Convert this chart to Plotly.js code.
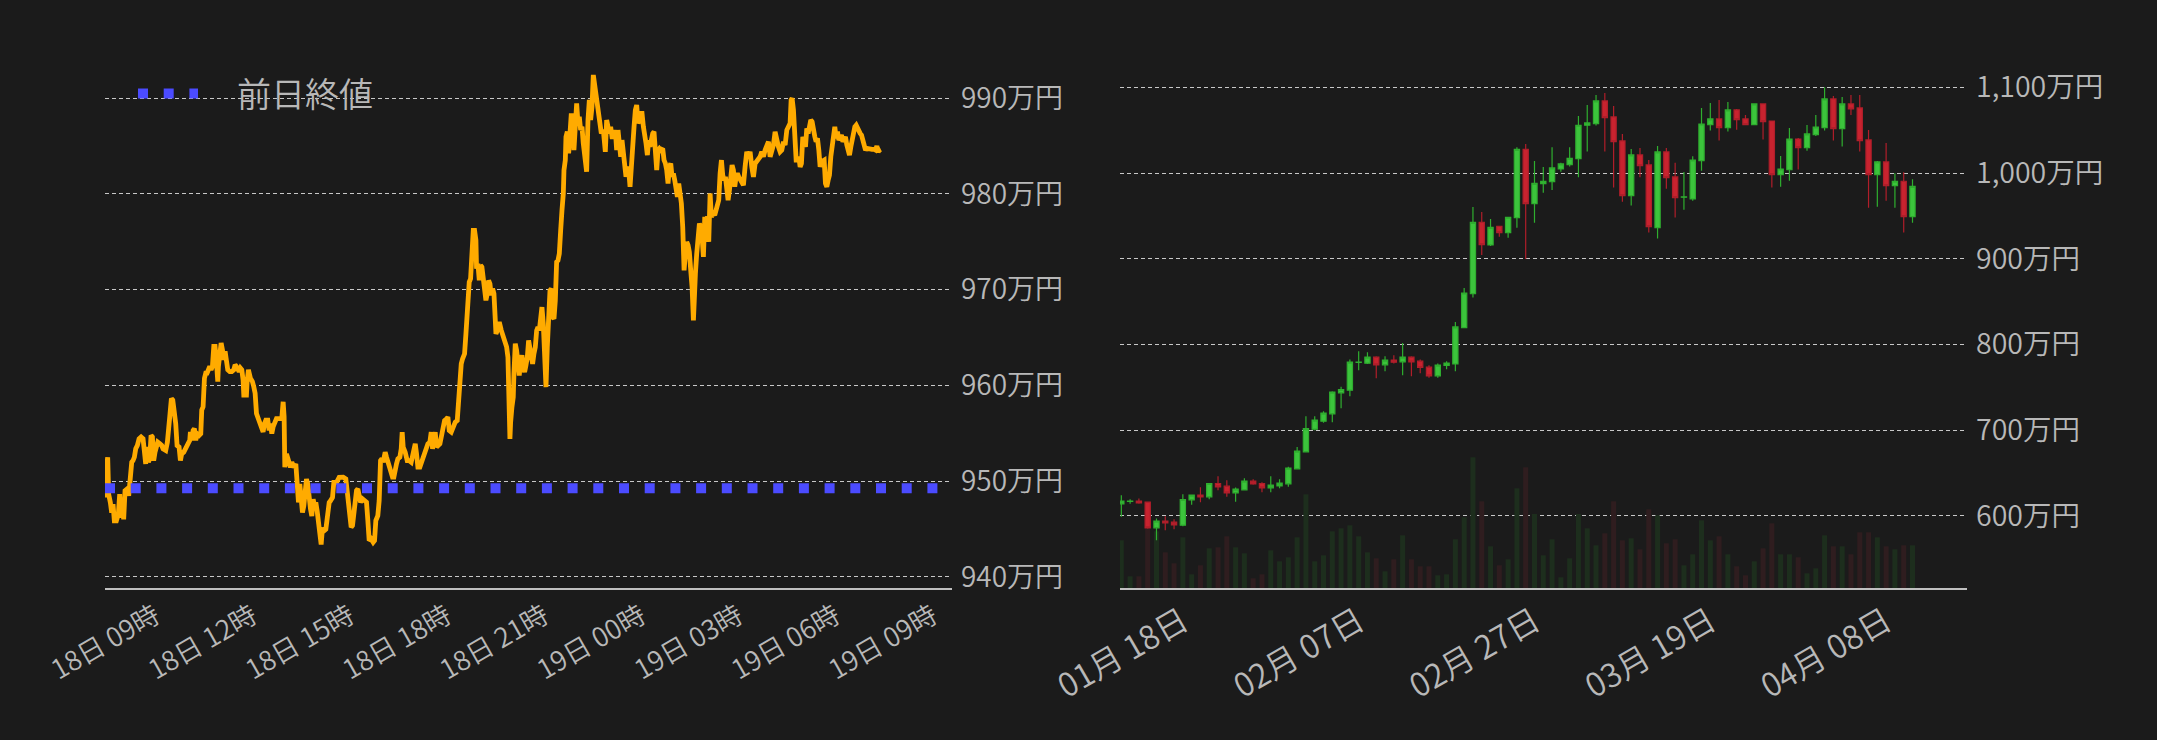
<!DOCTYPE html>
<html>
<head>
<meta charset="utf-8">
<script src="https://cdn.plot.ly/plotly-3.0.1.min.js"></script>
<style>
html,body{margin:0;padding:0;background:#1b1b1b;}
#chart{width:2157px;height:740px;}
</style>
</head>
<body>
<div id="chart"></div>
<script>
// ---------- Left chart: last 24h price (万円) ----------
const intradayStartUTC = Date.UTC(2023, 3, 18, 7, 29); // 18日 07:29
const intradayMinutes = [
0,0.5,3.0,4.8,7.9,10.4,12.9,15.3,19.0,22.7,25.2,27.7,30.2,32.6,35.1,38.8,41.9,43.8,47.5,49.9,52.4,54.9,58.0,61.1,64.8,68.5,70.9,73.4,75.9,78.4,80.8,83.3,85.8,88.2,90.7,93.2,95.7,99.4,103.1,105.5,108.0,110.5,113.6,116.0,118.5,121.0,123.5,125.9,129.0,131.5,135.2,137.7,140.1,143.9,147.6,151.3,155.0,156.2,158.7,161.2,163.6,166.1,168.6,172.3,175.4,177.2,179.7,182.2,184.6,187.1,189.6,192.0,194.5,197.0,199.5,201.9,204.4,206.9,208.1,210.6,213.1,215.5,218.0,220.5,222.9,225.4,229.1,232.8,236.5,239.0,241.5,244.0,246.4,248.9,251.4,253.8,255.1,257.5,260.0,261.3,263.7,267.4,271.1,273.6,276.1,278.6,281.0,283.5,287.2,290.9,293.4,295.9,299.6,302.0,304.5,307.0,309.4,311.9,315.6,321.8,325.5,328.0,329.8,331.1,334.2,337.9,341.6,344.1,347.8,351.5,353.9,356.4,358.9,361.4,363.8,366.3,368.8,371.2,373.7,376.2,378.7,381.1,383.6,386.1,388.5,391.0,393.5,396.0,398.4,400.9,403.4,407.1,410.8,413.3,415.7,419.4,421.9,426.9,431.8,
439.2,444.1,446.6,449.1,451.5,454.0,456.5,459.0,461.4,463.9,466.4,468.8,471.3,475.0,478.7,482.4,484.9,487.4,491.1,494.8,497.3,499.7,503.4,505.9,508.4,510.9,513.3,517.0,519.5,523.2,526.9,530.6,533.1,535.6,538.0,540.5,544.2,546.7,548.5,550.4,554.1,557.8,561.5,565.2,569.0,572.7,575.1,577.6,581.3,585.0,588.7,592.4,596.1,599.8,602.3,604.8,607.3,609.7,612.2,615.9,618.4,622.1,624.5,627.0,630.7,633.2,635.7,639.4,643.1,646.8,650.5,653.0,655.4,657.9,660.4,664.1,666.6,669.0,670.3,672.7,675.2,677.7,680.2,682.6,685.1,686.3,688.8,691.3,693.7,696.2,698.7,701.2,703.6,706.1,708.6,711.1,713.5,716.0,718.5,721.0,722.2,724.7,728.4,732.1,735.8,739.5,742.0,744.4,745.7,746.9,748.1,749.4,751.8,754.3,755.5,758.0,760.5,763.0,765.4,767.9,770.4,772.9,775.3,777.8,780.3,782.7,785.2,787.7,790.1,792.6,795.1,797.6,800.0,802.5,805.0,807.4,809.9,812.4,814.9,817.3,819.8,822.3,824.8,827.2,829.7,832.2,834.6,837.1,839.6,840.8,842.1,844.5,
847.0,848.2,850.7,851.9,854.4,856.9,859.3,861.8,864.3,866.7,869.2,871.7,874.2,876.6,879.1,881.6,884.0,887.8,890.2,892.7,895.2,897.6,900.1,902.6,906.3,910.0,913.7,917.4,921.1,924.8,927.3,929.8,932.2,934.7,937.2,940.9,943.4,945.8,948.3,950.8,953.3,955.7,958.2,960.7,963.1,965.6,968.1,970.6,973.0,975.5,978.0,980.4,982.9,985.4,987.9,990.3,992.8,995.3,997.7,1000.2,1002.7,1005.2,1007.6,1010.1,1012.6,1015.0,1017.5,1020.0,1022.5,1024.9,1027.4,1031.1,1033.6,1036.1,1038.5,1041.0,1043.5,1046.0,1048.4,1050.9,1053.4,1055.8,1058.3,1060.8,1063.2,1065.7,1068.2,1069.4,1070.7,1073.1,1075.6,1078.1,1080.5,1083.0,1085.5,1088.0,1089.2,1091.7,1094.1,1096.6,1099.1,1101.5,1104.0,1106.5,1109.0,1111.4,1113.9,1116.4,1118.9,1121.3,1125.0,1127.5,1130.0,1132.4,1134.9,1137.4,1139.9,1142.3,1144.8,1147.3,1149.7,1152.2,1154.7,1157.2,1159.6,1162.1,1164.6,1167.0,1169.5,1172.0,
1177.5,1180.6,1183.7,1186.8,1189.9,1193.0,1196.1,1199.2,1202.3,1205.3,1208.4,1211.5,1214.6,1217.7,1220.8,1223.9,1227.0,1230.1,1233.1,1236.2,1239.3,1242.4,1245.5,1248.6,1251.7,1254.8,1257.9,1261.0,1264.0,1267.1,1269.0,1270.8,1273.3,1275.8,1278.3,1280.7,1283.2,1285.7,1288.1,1290.6,1293.1,1295.6,1298.0,1300.5,1303.0,1305.4,1307.9,1310.4,1312.9,1315.3,1317.8,1320.3,1322.7,1325.2,1327.7,1330.2,1332.6,1335.1,1337.6,1340.0,1342.5,1345.0,1347.5,1349.9,1352.4,1354.9,1357.3,1359.8,1362.3,1364.8,1367.2,1369.7,1372.2,1374.6,1377.1,1379.6,1382.1,1384.5,1387.0,1389.5,1391.9,1394.4,1396.9,1399.4,1401.8,1404.3,1406.8,1409.2,1414.2,1419.1,1422.8,1425.3,1427.8,1430.3,1432.7,1435.2
];
const intradayPrices = [
948.28,951.44,952.49,948.63,947.76,946.70,947.58,945.83,945.83,946.53,948.63,946.18,947.23,946.00,948.99,949.16,948.46,950.39,951.97,952.14,952.49,953.37,953.72,954.42,954.60,954.42,952.14,951.79,953.55,951.97,952.32,954.77,954.60,952.14,953.02,953.55,954.07,953.90,953.72,953.37,953.20,953.20,954.07,956.35,957.06,958.63,958.46,957.41,956.00,953.72,953.55,952.14,952.84,953.02,953.37,953.72,954.25,955.13,954.25,955.30,955.48,954.25,954.95,954.77,954.95,957.41,957.76,960.74,961.27,961.27,961.79,961.97,961.62,961.97,964.07,964.07,962.49,960.39,961.97,963.72,964.42,963.72,962.67,963.55,962.49,961.62,961.44,961.44,961.62,962.14,961.97,961.62,961.44,961.79,961.62,960.56,958.99,958.99,958.99,960.39,961.62,960.74,960.39,959.86,959.16,957.06,956.70,956.18,955.83,955.13,956.00,956.35,956.35,955.30,956.00,954.95,955.65,956.18,956.53,956.53,956.53,958.28,956.70,951.44,952.84,952.14,951.44,951.97,951.44,951.79,948.28,947.76,949.69,947.06,946.70,947.41,948.63,950.21,949.69,947.76,947.06,946.35,948.11,947.41,947.76,946.88,945.48,944.42,943.37,945.13,944.77,944.95,946.70,947.76,947.93,948.28,949.86,949.86,950.39,
950.40,950.23,949.01,947.96,946.91,945.17,945.34,946.91,947.78,949.01,949.18,947.96,947.78,948.13,947.96,947.78,945.87,943.78,943.95,943.60,943.78,945.87,946.39,947.96,952.14,952.32,951.97,953.02,952.49,951.79,951.45,950.40,950.40,951.45,951.79,952.32,952.49,953.36,955.11,953.54,953.02,952.14,952.14,951.97,952.84,953.89,952.84,951.45,951.45,952.14,952.84,953.19,953.89,954.06,955.11,953.36,954.24,955.11,953.54,953.71,953.89,954.93,955.63,956.33,956.50,956.68,955.28,955.11,955.63,956.15,956.33,959.12,960.51,962.25,962.78,963.30,965.39,968.18,968.53,970.80,971.15,973.41,976.20,976.20,975.16,972.19,972.72,970.97,972.54,972.37,970.97,970.62,968.88,969.58,970.97,970.62,969.40,970.10,969.58,966.79,965.39,965.74,966.61,965.74,965.04,964.70,964.00,962.95,960.51,957.37,954.41,956.15,957.72,958.77,961.21,964.35,963.65,962.25,961.03,962.60,963.13,961.91,961.38,962.08,962.95,964.70,964.00,963.30,962.25,963.30,964.00,965.74,966.09,965.74,967.14,968.18,966.44,963.30,959.81,964.00,968.18,969.93,970.10,967.14,966.96,968.88,972.89,973.06,973.76,974.46,976.20,978.29,
980.05,982.49,983.54,985.98,986.51,984.24,985.98,988.43,987.03,984.59,987.03,989.47,987.38,988.08,986.68,987.03,985.28,982.49,982.32,987.73,989.82,987.73,989.12,992.44,990.87,990.17,988.25,986.33,986.68,984.41,987.73,987.03,986.33,987.03,985.98,985.98,986.68,984.59,986.68,985.28,983.89,985.63,983.89,983.54,981.79,982.84,982.49,980.75,983.54,984.93,987.03,988.77,989.30,987.38,987.73,988.43,988.43,987.03,985.63,985.28,984.06,985.63,984.93,985.98,986.33,986.51,984.93,982.49,984.59,984.76,984.59,984.76,983.54,983.19,982.49,981.10,982.84,983.19,981.79,982.14,981.44,980.75,979.70,981.10,980.05,979.00,976.56,973.07,972.02,973.77,974.99,974.64,973.94,972.02,970.28,966.78,969.58,971.67,973.77,975.51,976.91,976.56,975.51,973.42,977.61,977.26,977.61,974.99,980.05,977.61,977.95,977.78,978.30,978.65,979.35,982.14,983.54,981.97,981.44,981.79,979.70,979.35,980.40,982.84,983.02,982.49,980.75,981.79,982.14,981.79,
981.10,980.92,982.84,984.41,983.89,984.41,982.84,981.79,983.19,983.36,983.54,983.89,984.41,983.89,984.59,985.11,985.46,983.89,984.59,985.11,986.51,985.46,984.93,984.41,984.59,985.46,985.11,986.68,987.03,987.38,989.82,990.00,988.77,984.93,983.54,983.54,983.89,982.84,983.19,985.98,985.11,984.93,986.85,986.33,987.03,987.73,987.55,986.16,985.98,985.46,985.81,984.59,982.84,983.36,983.54,983.54,981.10,980.75,981.44,981.97,983.89,985.11,985.98,987.03,985.81,986.51,985.63,985.98,986.16,985.46,985.63,985.98,985.11,984.24,984.06,984.93,985.81,986.51,987.03,987.20,986.85,986.51,986.33,986.16,985.63,984.93,984.59,984.76,984.66,984.66,984.66,984.59,985.00,984.41,984.59,984.66
];
const prevClose = 949.24;
const prevCloseName = '前日終値';

// ---------- Right chart: daily candles (万円) ----------
const candleStart = '2023-01-11';
const candleOpen = [614.2,617.0,617.3,616.1,586.2,593.9,592.8,589.3,618.8,624.3,622.3,637.9,634.8,627.0,630.5,640.6,637.9,632.8,635.1,637.5,655.0,674.8,701.2,710.6,719.1,743.6,746.7,779.0,778.2,785.2,776.3,781.7,779.8,785.2,780.6,773.6,763.5,775.5,777.4,819.7,859.3,942.5,916.1,937.9,930.5,948.0,1027.7,964.3,987.6,990.0,1004.7,1009.8,1016.8,1055.7,1057.6,1084.1,1065.4,1037.4,973.6,1021.1,1009.4,936.3,1024.6,995.4,971.8,969.8,1014.5,1056.5,1063.1,1053.0,1073.6,1063.1,1056.5,1080.6,1060.7,998.1,1004.0,1039.7,1029.6,1044.8,1053.0,1086.4,1051.8,1080.6,1075.9,1038.6,998.1,1012.9,985.3,990.4,949.1];
const candleHigh = [624.3,619.6,620.4,616.9,597.0,599.8,596.3,625.4,624.6,633.6,638.2,646.4,641.8,633.2,644.1,642.9,639.4,646.4,642.9,657.3,680.6,716.4,716.4,722.2,745.6,750.6,782.5,792.2,791.1,786.4,786.4,787.6,801.9,786.4,782.5,775.9,777.8,780.6,826.3,865.9,960.4,954.6,946.4,938.2,948.7,1030.0,1033.9,1014.1,1007.1,1030.0,1012.1,1030.0,1066.6,1079.4,1091.1,1093.4,1078.2,1045.6,1028.1,1029.2,1015.2,1031.6,1029.2,1012.1,1001.2,1019.5,1075.9,1081.7,1085.2,1082.9,1074.7,1067.7,1080.9,1080.9,1061.0,1019.9,1052.6,1040.9,1056.1,1067.7,1100.0,1089.9,1088.7,1091.1,1091.1,1050.2,1014.1,1035.1,999.7,1000.9,992.7];
const candleLow = [599.0,614.2,614.2,585.0,571.8,583.4,584.6,588.1,613.0,616.1,619.6,630.1,622.3,616.5,630.2,636.4,627.8,627.8,632.4,634.0,654.7,674.5,700.1,708.6,709.4,725.7,739.7,770.1,777.4,760.7,768.9,777.8,764.2,763.1,766.6,761.1,761.1,771.2,768.9,819.0,854.7,904.4,914.9,925.8,924.6,936.3,899.8,942.1,977.1,980.2,1001.6,1007.5,995.0,1025.0,1055.3,1025.0,983.0,966.6,962.0,995.0,930.5,923.5,981.8,948.0,957.3,967.8,1002.8,1049.5,1037.8,1048.3,1050.6,1056.2,1056.2,1039.0,983.0,984.1,991.1,1004.0,1026.1,1043.2,1049.5,1037.8,1030.8,1067.7,1025.0,959.6,960.8,967.8,959.6,930.5,942.1];
const candleClose = [617.3,617.4,615.3,586.2,593.9,592.0,589.7,619.2,624.3,622.3,637.9,634.0,627.0,631.3,640.6,637.5,632.8,635.9,638.3,655.8,675.6,702.0,711.7,719.9,744.4,747.5,779.4,779.4,785.2,776.3,781.7,779.4,785.2,779.8,773.2,763.5,775.9,778.2,820.5,860.1,942.5,916.5,936.7,930.5,948.4,1027.7,964.3,988.0,990.4,1005.9,1010.6,1017.2,1055.7,1058.4,1084.1,1064.6,1036.6,973.6,1021.1,1008.6,937.5,1024.6,994.6,971.3,972.1,1015.2,1057.2,1063.1,1053.0,1073.6,1062.3,1056.5,1080.6,1060.0,998.1,1004.7,1039.7,1029.6,1045.6,1053.7,1086.4,1051.8,1080.6,1074.7,1037.8,998.1,1012.9,985.3,990.4,949.1,984.5];
const candleVolume = [143,35,35,178,170,107,74,152,41,68,119,122,155,122,104,29,41,113,80,92,152,281,80,98,170,179,188,155,107,89,50,86,158,86,65,65,38,41,146,212,392,260,125,68,86,299,362,222,98,146,32,89,222,179,128,164,260,143,149,116,236,218,134,146,68,101,203,143,155,101,65,38,80,119,194,101,101,92,44,59,158,125,125,101,167,167,152,125,116,128,128];

// ---------- build ----------
function fmt(ms){ return new Date(ms).toISOString().slice(0,19).replace('T',' '); }
const intradayX = intradayMinutes.map(m => fmt(intradayStartUTC + m*60000));
const xRangeL = [fmt(intradayStartUTC - 2*60000), fmt(intradayStartUTC + 1567*60000)];

const startMs = Date.parse(candleStart + 'T00:00:00Z');
const candleX = candleOpen.map((_, i) => fmt(startMs + i*86400000));
const volColors = candleOpen.map((o, i) => candleClose[i] >= o ? '#1d2e1d' : '#2f1d1f');

const FONT = '"Noto Sans CJK JP", "Noto Sans", sans-serif';
const TXT = '#b8b8b8';
const GRID = '#c8c8c8';
const W = 350;

const traces = [
  {
    type: 'scatter', mode: 'lines', x: intradayX, y: intradayPrices,
    xaxis: 'x', yaxis: 'y', line: {color: '#ffab00', width: 4.8},
    showlegend: false, hoverinfo: 'skip'
  },
  {
    type: 'scatter', mode: 'lines', x: xRangeL, y: [prevClose, prevClose],
    xaxis: 'x', yaxis: 'y', name: '\u3000' + prevCloseName,
    line: {color: '#4b4bff', width: 10, dash: '10px,15.7px'},
    showlegend: true, hoverinfo: 'skip'
  },
  {
    type: 'bar', x: candleX, y: candleVolume, xaxis: 'x2', yaxis: 'y2',
    marker: {color: volColors, line: {width: 0}}, showlegend: false, hoverinfo: 'skip'
  },
  {
    type: 'candlestick', x: candleX, open: candleOpen, high: candleHigh, low: candleLow, close: candleClose,
    xaxis: 'x2', yaxis: 'y3', showlegend: false, hoverinfo: 'skip',
    increasing: {line: {color: '#2fae2f', width: 1.2}, fillcolor: '#3cc43c'},
    decreasing: {line: {color: '#b01e2a', width: 1.2}, fillcolor: '#c8232f'},
    whiskerwidth: 0
  }
];

const yDom = [(740-588)/740, (740-65)/740];
const layout = {
  width: 2157, height: 740,
  paper_bgcolor: '#1b1b1b', plot_bgcolor: '#1b1b1b',
  margin: {l: 0, r: 0, t: 0, b: 0},
  font: {family: FONT, color: TXT, size: 26, weight: W},
  showlegend: true,
  legend: {
    x: 133/2157, y: (740-94)/740, xanchor: 'left', yanchor: 'middle',
    bgcolor: 'rgba(0,0,0,0)', borderwidth: 0,
    font: {family: FONT, size: 34, color: TXT, weight: W}, itemwidth: 60
  },
  bargap: 0.43,
  boxgap: 0.15,
  xaxis: {
    domain: [105/2157, 952/2157], anchor: 'y', type: 'date', range: xRangeL,
    tickmode: 'linear', tick0: '2023-04-18 00:00', dtick: 3*3600000,
    tickformat: '%d日 %H時', tickangle: -30, tickfont: {size: 27, color: TXT, weight: W},
    showgrid: false, zeroline: false, showline: true, linecolor: '#c0c0c0', linewidth: 2,
    ticks: '', fixedrange: true
  },
  yaxis: {
    domain: yDom, anchor: 'x', side: 'right', range: [938.82, 993.48],
    tickmode: 'linear', tick0: 940, dtick: 10, ticksuffix: '万円',
    tickfont: {size: 28, color: TXT, weight: W}, ticklabelstandoff: 8,
    showgrid: true, gridcolor: GRID, gridwidth: 1, griddash: '4px,3px',
    zeroline: false, showline: false, ticks: '', fixedrange: true
  },
  xaxis2: {
    domain: [1120/2157, 1967/2157], anchor: 'y2', type: 'date',
    range: ['2023-01-10 20:24', '2023-04-17 04:48'],
    tickmode: 'linear', tick0: '2023-01-18', dtick: 20*86400000,
    tickformat: '%m月 %d日', tickangle: -30, tickfont: {size: 32.5, color: TXT, weight: W},
    showgrid: false, zeroline: false, showline: true, linecolor: '#c0c0c0', linewidth: 2,
    ticks: '', rangeslider: {visible: false}, fixedrange: true
  },
  yaxis2: {
    domain: yDom, anchor: 'x2', range: [0, 1569], visible: false, showgrid: false, fixedrange: true
  },
  yaxis3: {
    overlaying: 'y2', anchor: 'x2', side: 'right', range: [516, 1126],
    tickmode: 'linear', tick0: 600, dtick: 100, tickformat: ',', ticksuffix: '万円',
    tickfont: {size: 28.5, color: TXT, weight: W}, ticklabelstandoff: 8,
    showgrid: true, gridcolor: GRID, gridwidth: 1, griddash: '4px,3px',
    zeroline: false, showline: false, ticks: '', fixedrange: true
  }
};

Plotly.newPlot('chart', traces, layout, {staticPlot: true, displayModeBar: false});
</script>
</body>
</html>
